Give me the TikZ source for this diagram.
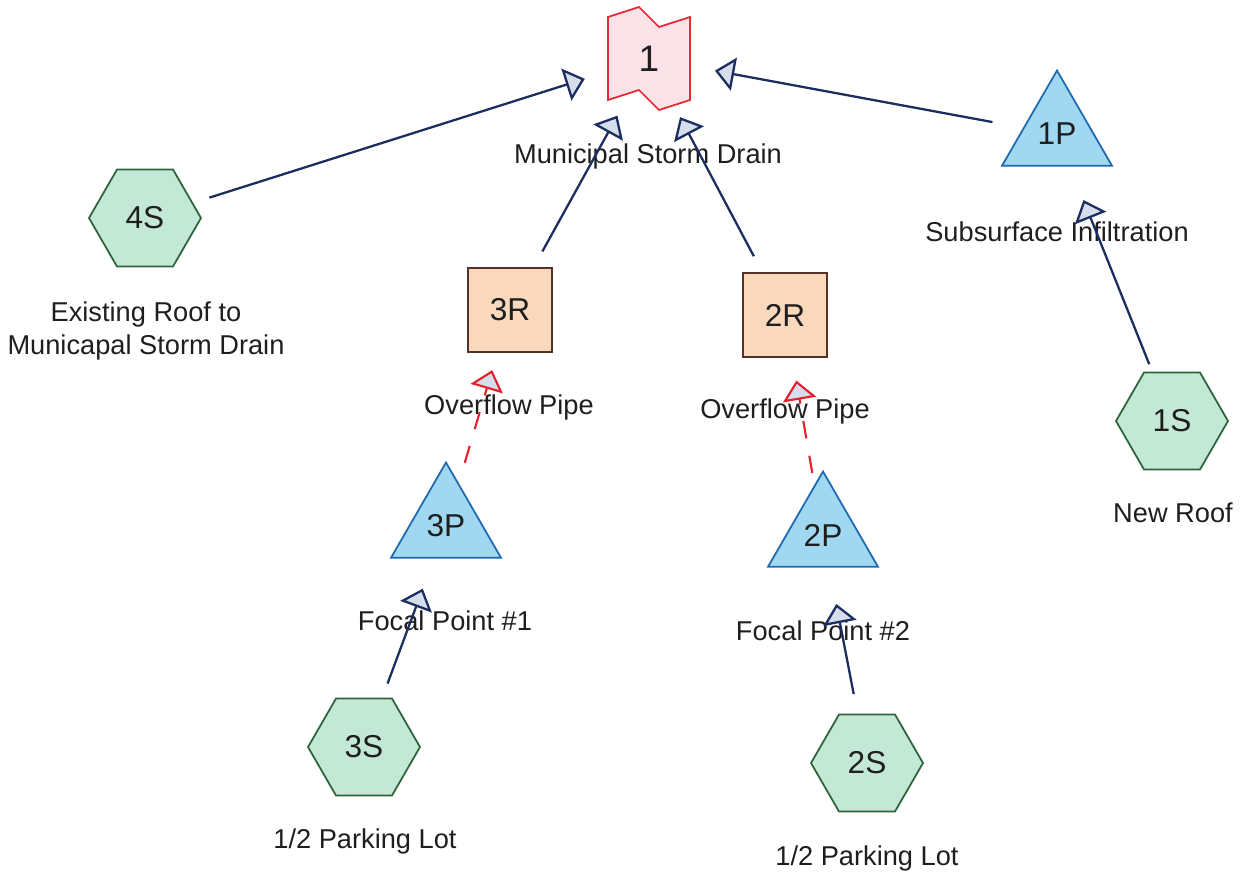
\documentclass[tikz,border=0pt]{standalone}
\usepackage{fontspec}
\setmainfont{Liberation Sans}
\usetikzlibrary{shapes.geometric, arrows.meta, backgrounds}

\definecolor{subfill}{RGB}{196,232,214}
\definecolor{subline}{RGB}{45,100,60}
\definecolor{pondfill}{RGB}{160,216,242}
\definecolor{pondline}{RGB}{30,105,175}
\definecolor{reachfill}{RGB}{249,216,188}
\definecolor{reachline}{RGB}{85,50,40}
\definecolor{linkfill}{RGB}{250,226,232}
\definecolor{linkline}{RGB}{232,40,50}
\definecolor{flowline}{RGB}{28,45,95}
\definecolor{spillline}{RGB}{230,30,45}
\definecolor{headfill}{RGB}{214,222,236}
\definecolor{txt}{RGB}{30,30,30}

\begin{document}
\begin{tikzpicture}[x=0.02cm, y=-0.02cm, >={Triangle[length=11pt, width=19pt, fill=headfill]},
  flow/.style={->, draw=flowline, line width=1.3pt},
  spill/.style={->, draw=spillline, line width=1.2pt, dash pattern=on 10pt off 10pt},
  subcat/.style={regular polygon, regular polygon sides=6, minimum size=2.24cm, inner sep=0pt, draw=subline, fill=subfill, line width=1pt, text=txt, font=\fontsize{18}{21}\selectfont},
  pond/.style={regular polygon, regular polygon sides=3, minimum size=2.54cm, inner sep=0pt, draw=pondline, fill=pondfill, line width=1pt, text=txt, font=\fontsize{18}{21}\selectfont},
  reach/.style={rectangle, minimum size=1.68cm, draw=reachline, fill=reachfill, line width=1pt, text=txt, font=\fontsize{18}{21}\selectfont},
  link/.style={rectangle, minimum width=1.64cm, minimum height=1.66cm, text=txt, font=\fontsize{21}{24}\selectfont},
  lbl/.style={anchor=base, text=txt, font=\fontsize{15.5}{19}\selectfont}]
\useasboundingbox (0,0) rectangle (1241,877);

\node[link] (1) at (649,58.5) {1};
\node[subcat] (4S) at (145,218) {4S};
\node[reach] (3R) at (510,310) {3R};
\node[reach] (2R) at (785,315) {2R};
\node[pond] (1P) at (1057,134) {1P};
\node[pond] (3P) at (446,526) {3P};
\node[pond] (2P) at (823,535) {2P};
\node[subcat] (1S) at (1172,421) {1S};
\node[subcat] (3S) at (364,747) {3S};
\node[subcat] (2S) at (867,763) {2S};

\begin{scope}[on background layer, shift={(1.center)}]
\draw[draw=linkline, fill=linkfill, line width=1pt] (-41,-41.5) -- (-10,-51.5) -- (10,-31.5) -- (41,-41.5)
  -- (41,41.5) -- (10,51.5) -- (-10,31.5) -- (-41,41.5) -- cycle;
\end{scope}

\node[lbl] (l1) at (648,163) {Municipal Storm Drain};
\node[lbl, anchor=center, align=center] (l4S) at (146,331) {Existing Roof to\\Municapal Storm Drain};
\node[lbl] (l3R) at (509,414) {Overflow Pipe};
\node[lbl] (l2R) at (785,418) {Overflow Pipe};
\node[lbl] (l3P) at (445,630) {Focal Point \#1};
\node[lbl] (l2P) at (823,640) {Focal Point \#2};
\node[lbl] (l1P) at (1057,241) {Subsurface Infiltration};
\node[lbl] (l1S) at (1173,522) {New Roof};
\node[lbl] (l3S) at (365,848) {1/2 Parking Lot};
\node[lbl] (l2S) at (867,865) {1/2 Parking Lot};

\path
(4S) edge [flow, shorten <=0.34cm, shorten >=0.48cm] (1)
(3R) edge [flow, shorten <=0.36cm, shorten >=0.35cm] (1)
(2R) edge [flow, shorten <=0.36cm, shorten >=0.38cm] (1)
(1P) edge [flow, shorten <=0.62cm, shorten >=0.5cm] (1)
(1S) edge [flow, shorten <=0.16cm, shorten >=0.72cm] (1P)
(3P) edge [spill, shorten <=0.42cm, shorten >=0.36cm] (3R)
(2P) edge [spill, shorten <=0.24cm, shorten >=0.46cm] (2R)
(3S) edge [flow, shorten <=0.3cm, shorten >=0.64cm] (3P)
(2S) edge [flow, shorten <=0.4cm, shorten >=0.74cm] (2P);
\end{tikzpicture}
\end{document}
